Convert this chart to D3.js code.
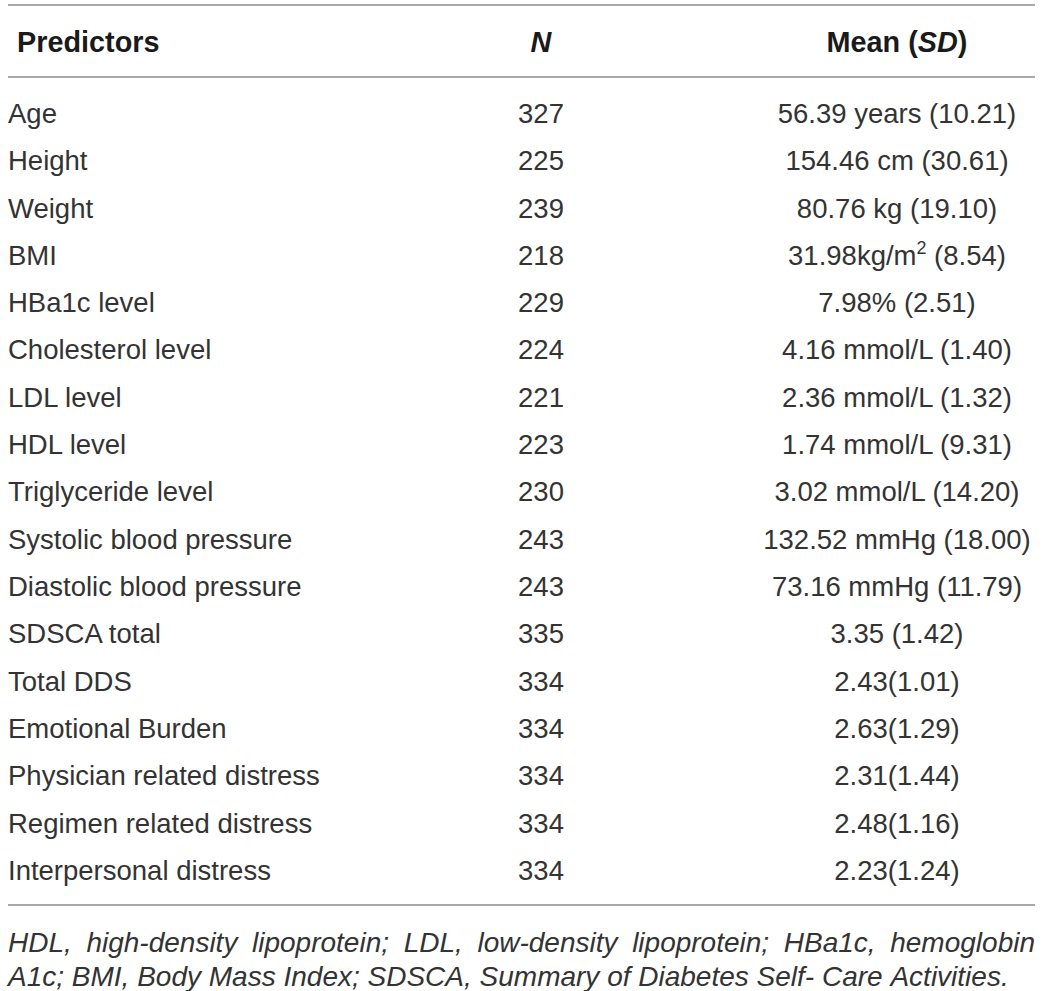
<!DOCTYPE html>
<html>
<head>
<meta charset="utf-8">
<script src="https://cdn.jsdelivr.net/npm/d3@7"></script>
<style>
  body { margin: 0; background: #fff; }
  text { font-family: "Liberation Sans", Arial, Helvetica, sans-serif; }
</style>
</head>
<body>
<div id="chart"></div>
<script>
const predictors = ["Age", "Height", "Weight", "BMI", "HBa1c level", "Cholesterol level",
  "LDL level", "HDL level", "Triglyceride level", "Systolic blood pressure",
  "Diastolic blood pressure", "SDSCA total", "Total DDS", "Emotional Burden",
  "Physician related distress", "Regimen related distress", "Interpersonal distress"];
const nValues = [327, 225, 239, 218, 229, 224, 221, 223, 230, 243, 243, 335, 334, 334, 334, 334, 334];
const meanValues = ["56.39 years (10.21)", "154.46 cm (30.61)", "80.76 kg (19.10)",
  "31.98kg/m^2 (8.54)", "7.98% (2.51)", "4.16 mmol/L (1.40)", "2.36 mmol/L (1.32)",
  "1.74 mmol/L (9.31)", "3.02 mmol/L (14.20)", "132.52 mmHg (18.00)", "73.16 mmHg (11.79)",
  "3.35 (1.42)", "2.43(1.01)", "2.63(1.29)", "2.31(1.44)", "2.48(1.16)", "2.23(1.24)"];
const footnoteLines = [
  "HDL, high-density lipoprotein; LDL, low-density lipoprotein; HBa1c, hemoglobin",
  "A1c; BMI, Body Mass Index; SDSCA, Summary of Diabetes Self- Care Activities."
];

const width = 1042, height = 991;
const left = 8, right = 1035;
const fontSize = 27.5;
const headSize = 28.8;
const footSize = 28;

const svg = d3.select("#chart").append("svg")
  .attr("width", width)
  .attr("height", height);

// row positions
const y = d3.scalePoint().domain(predictors).range([113, 870]);
// column centres
const col = d3.scaleOrdinal().domain(["label", "n", "mean"]).range([left, 541, 897]);

// horizontal rules
const rules = [5, 77, 905];
svg.append("g")
  .selectAll("line")
  .data(rules)
  .join("line")
  .attr("x1", left).attr("x2", right)
  .attr("y1", d => d).attr("y2", d => d)
  .attr("stroke", "#a8a8a8")
  .attr("stroke-width", 2);

// header
const header = svg.append("g")
  .attr("font-weight", "bold")
  .attr("font-size", headSize)
  .attr("fill", "#1a1a1a")
  .attr("dominant-baseline", "central");

header.append("text").attr("x", 17).attr("y", 42).text("Predictors");
header.append("text").attr("x", col("n")).attr("y", 42)
  .attr("text-anchor", "middle").attr("font-style", "italic").text("N");
const meanHead = header.append("text").attr("x", col("mean")).attr("y", 42)
  .attr("text-anchor", "middle");
meanHead.append("tspan").text("Mean (");
meanHead.append("tspan").attr("font-style", "italic").text("SD");
meanHead.append("tspan").text(")");

// body rows
const rows = svg.append("g")
  .attr("font-size", fontSize)
  .attr("fill", "#333")
  .selectAll("g")
  .data(predictors.map((p, i) => ({ p, n: nValues[i], m: meanValues[i] })))
  .join("g")
  .attr("transform", d => `translate(0,${y(d.p) + fontSize * 0.36})`);

rows.append("text").attr("x", col("label")).text(d => d.p);
rows.append("text").attr("x", col("n")).attr("text-anchor", "middle").text(d => d.n);
rows.append("text").attr("x", col("mean")).attr("text-anchor", "middle")
  .each(function(d) {
    const t = d3.select(this);
    const parts = d.m.split("^");
    if (parts.length === 1) { t.text(d.m); return; }
    t.append("tspan").text(parts[0]);
    t.append("tspan").attr("font-size", fontSize * 0.65).attr("dy", -fontSize * 0.38)
      .text(parts[1].charAt(0));
    t.append("tspan").attr("dy", fontSize * 0.38).text(parts[1].slice(1));
  });

// footnote, first line justified
const foot = svg.append("g")
  .attr("font-size", footSize)
  .attr("font-style", "italic")
  .attr("fill", "#333");
const footY = [952, 986];

footnoteLines.forEach((line, li) => {
  const words = line.split(" ");
  const ws = foot.selectAll(null).data(words).join("text")
    .attr("y", footY[li])
    .text(d => d);
  const lens = [];
  ws.each(function() { lens.push(this.getComputedTextLength()); });
  const total = d3.sum(lens);
  const gap = li === 0
    ? (right - left - total) / (words.length - 1)
    : footSize * 0.278;
  let x = left;
  ws.attr("x", (d, i) => { const xx = x; x += lens[i] + gap; return xx; });
});
</script>
</body>
</html>
